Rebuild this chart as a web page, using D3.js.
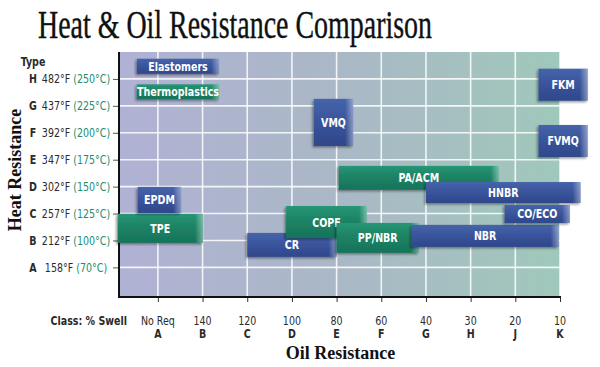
<!DOCTYPE html>
<html><head><meta charset="utf-8">
<script src="https://cdn.jsdelivr.net/npm/d3@7/dist/d3.min.js"></script>
<style>body{margin:0;background:#fff}svg{display:block}</style>
</head><body>
<svg id="c" width="600" height="367"></svg>
<script>
// ---- data ----
const heatClasses = ["A","B","C","D","E","F","G","H"];
const heatF = ["158°F","212°F","257°F","302°F","347°F","392°F","437°F","482°F"];
const heatC = ["(70°C)","(100°C)","(125°C)","(150°C)","(175°C)","(200°C)","(225°C)","(250°C)"];
const oilClasses = ["A","B","C","D","E","F","G","H","J","K"];
const oilSwell = ["No Req","140","120","100","80","60","40","30","20","10"];
// materials: oil class range (index, A=0) and heat class range (index, A=0)
const materials = ["TPE","EPDM","CR","COPE","PP/NBR","NBR","PA/ACM","HNBR","CO/ECO","VMQ","FKM","FVMQ"];
const matType  = ["T","E","E","T","T","E","T","E","E","E","E","E"];
const oilFrom  = [-0.9, -0.45, 2.0, 2.87, 4.0, 5.68, 4.05, 6.0, 7.76, 3.49, 8.52, 8.52];
const oilTo    = [1.01, 0.52, 4.0, 4.68, 5.84, 8.97, 7.63, 9.46, 9.22, 4.37, 9.62, 9.62];
const heatFrom = [0.91, 2.02, 0.39, 1.09, 0.54, 0.76, 2.88, 2.39, 1.65, 4.51, 6.19, 4.10];
const heatTo   = [1.99, 2.99, 1.28, 2.28, 1.65, 1.58, 3.77, 3.17, 2.32, 6.26, 7.38, 5.29];
const legendLabels = ["Elastomers","Thermoplastics"];
const legendTypes = ["E","T"];

// ---- layout ----
const svg = d3.select("#c");
const L = 119, R = 560, T = 52, B = 297;
const x = d3.scaleLinear().domain([-0.87, 9]).range([L, R]);
const y = d3.scaleLinear().domain([-1.1, 8]).range([B, T]);
const green = "#1c8d6c";
const condensed = "'DejaVu Sans Condensed','Liberation Sans Narrow','Liberation Sans',Arial,sans-serif";
const SX = 0.88; // horizontal squeeze for condensed labels

const defs = svg.append("defs");
const bg = defs.append("linearGradient").attr("id","bg").attr("x1",0).attr("x2",1).attr("y1",0).attr("y2",0);
bg.append("stop").attr("offset",0).attr("stop-color","#b0b2d4");
bg.append("stop").attr("offset",0.5).attr("stop-color","#aab8c6");
bg.append("stop").attr("offset",1).attr("stop-color","#a0c8bb");
function vgrad(id, top, mid, bot){
  const g = defs.append("linearGradient").attr("id",id).attr("x1",0).attr("x2",0).attr("y1",0).attr("y2",1);
  g.append("stop").attr("offset",0).attr("stop-color",top);
  g.append("stop").attr("offset",0.45).attr("stop-color",mid);
  g.append("stop").attr("offset",1).attr("stop-color",bot);
}
vgrad("gE","#4664aa","#3a559d","#2f4789");
vgrad("gT","#279676","#1c8363","#17735a");
const sh = defs.append("linearGradient").attr("id","shine").attr("x1",0).attr("x2",1).attr("y1",0).attr("y2",0);
sh.append("stop").attr("offset",0).attr("stop-color","#fff").attr("stop-opacity",0);
sh.append("stop").attr("offset",1).attr("stop-color","#fff").attr("stop-opacity",0.4);
const f = defs.append("filter").attr("id","ds").attr("x","-20%").attr("y","-30%").attr("width","150%").attr("height","170%");
f.append("feDropShadow").attr("dx",-1.5).attr("dy",1.5).attr("stdDeviation",1.3).attr("flood-color","#000").attr("flood-opacity",0.4);

// title
svg.append("text").attr("x",38).attr("y",38)
  .attr("font-family","'Liberation Serif','Times New Roman',serif").attr("font-size",39)
  .attr("textLength",394).attr("lengthAdjust","spacingAndGlyphs").attr("fill","#111")
  .attr("stroke","#111").attr("stroke-width",0.4)
  .text("Heat & Oil Resistance Comparison");

// plot background
svg.append("rect").attr("x",L).attr("y",T).attr("width",R-L).attr("height",B-T).attr("fill","url(#bg)");

// gridlines
const grid = svg.append("g").attr("stroke","#fff").attr("stroke-width",1.6).attr("stroke-opacity",0.85);
grid.selectAll("line.h").data(heatClasses).join("line")
  .attr("x1",L).attr("x2",R).attr("y1",(d,i)=>y(i)).attr("y2",(d,i)=>y(i));
grid.selectAll("line.v").data(oilClasses).join("line")
  .attr("y1",T).attr("y2",B).attr("x1",(d,i)=>x(i)).attr("x2",(d,i)=>x(i));

// axes
const yAxis = d3.axisLeft(y).tickValues(d3.range(heatClasses.length)).tickSize(6).tickFormat("");
const ga = svg.append("g").attr("transform",`translate(${L},0)`).call(yAxis);
ga.select(".domain").remove();
ga.selectAll(".tick line").attr("stroke","#555");
const xAxis = d3.axisBottom(x).tickValues(d3.range(oilClasses.length)).tickSize(5).tickFormat("");
const gb = svg.append("g").attr("transform",`translate(0,${B})`).call(xAxis);
gb.select(".domain").remove();
gb.selectAll(".tick line").attr("stroke","#333");
svg.append("path").attr("d",`M${L},${T}V${B}H${R+1}`).attr("fill","none").attr("stroke","#111").attr("stroke-width",2);

// y tick labels
const yl = svg.append("g").attr("transform",`scale(${SX},1)`).attr("font-family",condensed).attr("font-size",12).attr("fill","#2a2a2a");
yl.selectAll("text.l").data(heatClasses).join("text").attr("class","l")
  .attr("x",33/SX).attr("y",(d,i)=>y(i)+4.5).attr("text-anchor","middle").attr("font-weight","bold").text(d=>d);
const ytx = yl.selectAll("text.v").data(heatClasses).join("text").attr("class","v")
  .attr("x",76/SX).attr("y",(d,i)=>y(i)+4.5).attr("text-anchor","middle");
ytx.append("tspan").text((d,i)=>heatF[i]+" ");
ytx.append("tspan").attr("fill",green).text((d,i)=>heatC[i]);
yl.append("text").attr("x",33/SX).attr("y",66).attr("text-anchor","middle")
  .attr("font-weight","bold").text("Type");

// x tick labels
const xl = svg.append("g").attr("transform",`scale(${SX},1)`).attr("font-family",condensed).attr("font-size",12).attr("fill","#2a2a2a").attr("text-anchor","middle");
xl.selectAll("text.n").data(oilSwell).join("text").attr("x",(d,i)=>x(i)/SX).attr("y",325).text(d=>d);
xl.selectAll("text.c").data(oilClasses).join("text").attr("x",(d,i)=>x(i)/SX).attr("y",338).attr("font-weight","bold").text(d=>d);
xl.append("text").attr("x",127/SX).attr("y",325).attr("text-anchor","end")
  .attr("font-weight","bold").text("Class: % Swell");

// axis titles
svg.append("text").attr("x",(L+R)/2+1).attr("y",359).attr("text-anchor","middle")
  .attr("font-family","'Liberation Serif','Times New Roman',serif").attr("font-weight","bold").attr("font-size",18)
  .attr("fill","#111").text("Oil Resistance");
svg.append("text").attr("transform","translate(21,170) rotate(-90)").attr("text-anchor","middle")
  .attr("font-family","'Liberation Serif','Times New Roman',serif").attr("font-weight","bold").attr("font-size",18)
  .attr("fill","#111").text("Heat Resistance");

// bars
function bar(g, x0, x1, y0, y1, type, label){
  const w = x1-x0, h = y1-y0;
  const gg = g.append("g").attr("filter","url(#ds)");
  gg.append("rect").attr("x",x0).attr("y",y0).attr("width",w).attr("height",h).attr("fill",type==="E"?"url(#gE)":"url(#gT)");
  gg.append("rect").attr("x",x1-8).attr("y",y0).attr("width",8).attr("height",h).attr("fill","url(#shine)");
  g.append("text").attr("transform",`translate(${(x0+x1)/2},${(y0+y1)/2+4.5}) scale(${SX},1)`).attr("text-anchor","middle")
    .attr("font-family",condensed).attr("font-weight","bold").attr("font-size",12).attr("fill","#fff").text(label);
}
const bars = svg.append("g");
materials.forEach((m,i)=>{
  bar(bars, x(oilFrom[i]), x(oilTo[i]), y(heatTo[i]), y(heatFrom[i]), matType[i], m);
});

// legend (placed in chart units near the top-left)
legendLabels.forEach((lab,i)=>{
  const y0 = y(7.75 - i*0.95), y1 = y(7.19 - i*0.95);
  bar(bars, x(-0.47), x(1.37), y0, y1, legendTypes[i], lab);
});
</script>
</body></html>
